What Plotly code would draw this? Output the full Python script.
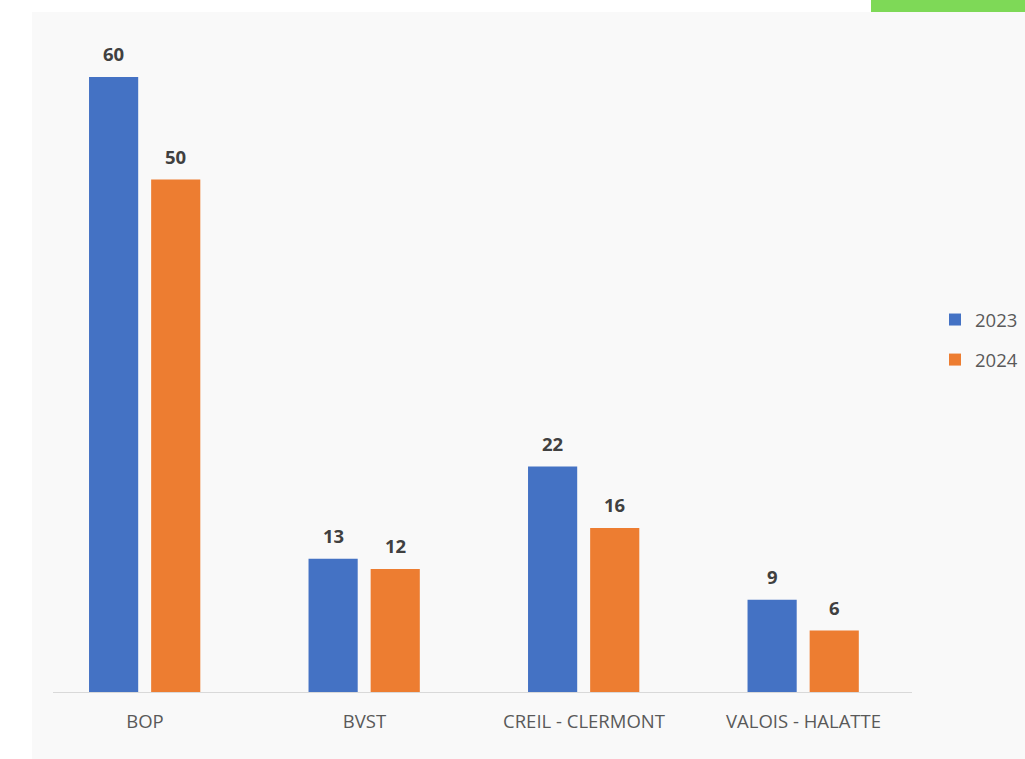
import plotly.graph_objects as go

categories = ["BOP", "BVST", "CREIL - CLERMONT", "VALOIS - HALATTE"]
years = ["2023", "2024"]
values_2023 = [60, 13, 22, 9]
values_2024 = [50, 12, 16, 6]

colors = ["#4472C4", "#ED7D31"]
offsets = [-0.255, 0.028]
bar_w = 0.224

W, H = 1025, 759
L, R, T, B = 53, 113, 33, 67
pw, ph = W - L - R, H - T - B

def px_x(p):
    return (p - L) / pw

def px_y(p):
    return (H - B - p) / ph

idx = list(range(len(categories)))
fig = go.Figure()
annotations = []
for name, vals, col, off in zip(years, [values_2023, values_2024], colors, offsets):
    fig.add_trace(go.Bar(
        x=idx, y=vals, name=name, marker=dict(color=col, line=dict(width=0)),
        offset=off, width=bar_w, legendgroup=name, hoverinfo="skip",
    ))
    for i, v in zip(idx, vals):
        annotations.append(dict(
            x=i + off + bar_w / 2, y=v, xref="x", yref="y", text=f"<b>{v}</b>",
            showarrow=False, yanchor="bottom", yshift=9,
            font=dict(family="Open Sans", size=18.5, color="#404040"),
        ))

shapes = [
    dict(type="rect", xref="paper", yref="paper", layer="below",
         x0=px_x(32), x1=px_x(1030), y0=px_y(765), y1=px_y(12),
         fillcolor="#f9f9f9", line=dict(width=0)),
    dict(type="rect", xref="paper", yref="paper", layer="below",
         x0=px_x(871), x1=px_x(1030), y0=px_y(12), y1=px_y(-5),
         fillcolor="#7ed957", line=dict(width=0)),
]

fig.update_layout(
    width=W, height=H,
    margin=dict(l=L, r=R, t=T, b=B, pad=0),
    paper_bgcolor="white", plot_bgcolor="rgba(0,0,0,0)",
    barmode="overlay",
    font=dict(family="Open Sans", color="#595959", size=18.5),
    xaxis=dict(
        range=[(L - 145) / 219.5, (912 - 145) / 219.5],
        tickmode="array", tickvals=idx, ticktext=categories,
        showline=True, linecolor="#d9d9d9", linewidth=1,
        showgrid=False, zeroline=False, ticks="outside", ticklen=13,
        tickcolor="rgba(0,0,0,0)", fixedrange=True,
        tickfont=dict(size=18.5, color="#595959"),
    ),
    yaxis=dict(range=[0, ph / 10.25], visible=False, showgrid=False,
               zeroline=False, fixedrange=True),
    legend=dict(
        xref="container", yref="container",
        x=935 / W, y=(H - 340) / H, xanchor="left", yanchor="middle",
        bgcolor="rgba(0,0,0,0)", tracegroupgap=13,
        font=dict(size=18.5, color="#595959"), itemclick=False,
    ),
    shapes=shapes,
    annotations=annotations,
    showlegend=True,
    hovermode=False,
)

fig.write_html("out.html", config={"displayModeBar": False},
               post_script="document.body.style.margin='0px';")
